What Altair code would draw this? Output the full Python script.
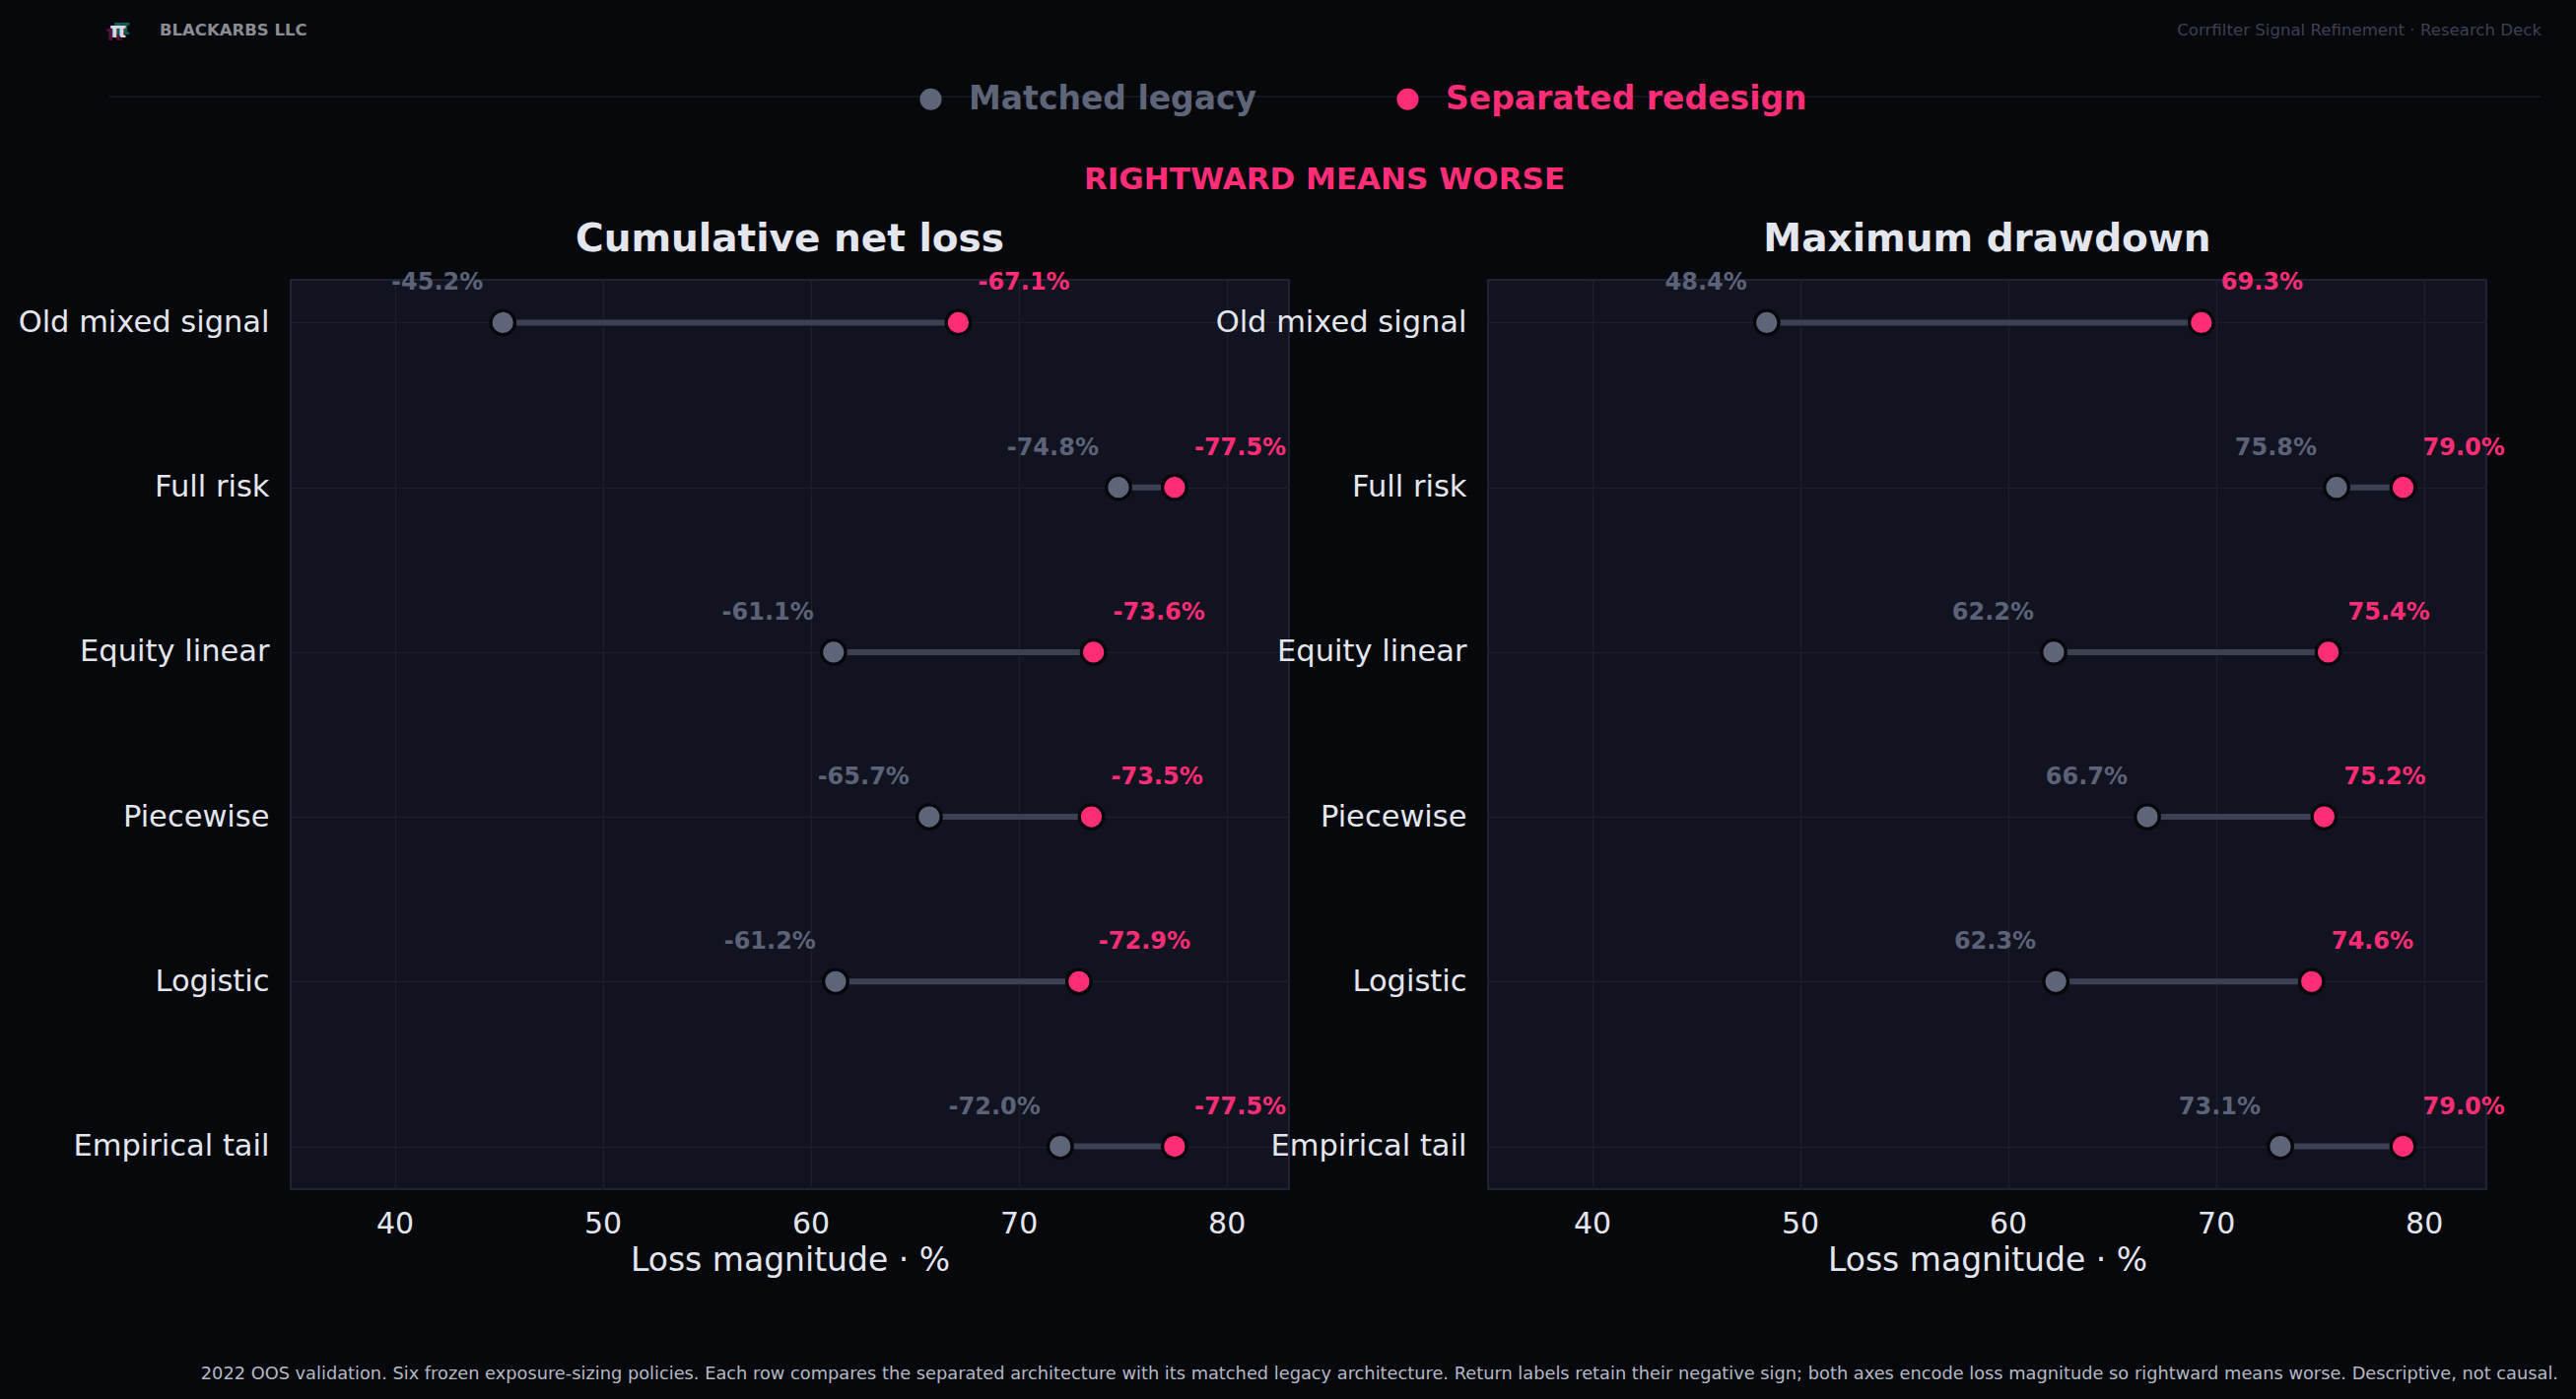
import altair as alt
import pandas as pd

# ---------------- data ----------------
policies = ["Old mixed signal", "Full risk", "Equity linear", "Piecewise", "Logistic", "Empirical tail"]
series_names = ["Matched legacy", "Separated redesign"]
loss_legacy = [45.2, 74.8, 61.1, 65.7, 61.2, 72.0]
loss_redesign = [67.1, 77.5, 73.6, 73.5, 72.9, 77.5]
dd_legacy = [48.4, 75.8, 62.2, 66.7, 62.3, 73.1]
dd_redesign = [69.3, 79.0, 75.4, 75.2, 74.6, 79.0]
x_ticks = [40, 50, 60, 70, 80]
x_domain = [35, 83]

panel_titles = ["Cumulative net loss", "Maximum drawdown"]
x_title = "Loss magnitude · %"
header_brand = "BLACKARBS LLC"
header_right = "Corrfilter Signal Refinement · Research Deck"
kicker = "RIGHTWARD MEANS WORSE"
footer = ("2022 OOS validation. Six frozen exposure-sizing policies. Each row compares the separated "
          "architecture with its matched legacy architecture. Return labels retain their negative sign; "
          "both axes encode loss magnitude so rightward means worse. Descriptive, not causal.")

# ---------------- style ----------------
FONT = "DejaVu Sans"
BG = "#07080c"
PANEL = "#121320"
GRID = "#1c1e2c"
BORDER = "#262a3c"
GRAY = "#5f6578"
GRAY_TXT = "#5c6277"
PINK = "#ff2d78"
LINK = "#3c4052"
TXT = "#e4e6ee"

W, H = 1013, 923


def text_layer(txt, x, y, size, color, weight="normal", align="left", dx=0, dy=0):
    return alt.Chart(pd.DataFrame({"t": [txt]})).mark_text(
        font=FONT, fontSize=size, fontWeight=weight, color=color, align=align,
        baseline="middle", dx=dx, dy=dy
    ).encode(text="t:N", x=alt.value(x), y=alt.value(y))


def panel(title, legacy, redesign, sign, show_legend, extras):
    wide = pd.DataFrame({"policy": policies, "legacy": legacy, "redesign": redesign})
    long = pd.DataFrame({
        "policy": policies * 2,
        "series": [series_names[0]] * len(policies) + [series_names[1]] * len(policies),
        "value": legacy + redesign,
    })
    long["label"] = [f"{sign}{v:.1f}%" for v in long["value"]]

    yenc = alt.Y(
        "policy:N", sort=policies, title=None,
        scale=alt.Scale(type="point", padding=0.26),
        axis=alt.Axis(labelFontSize=30.5, labelColor=TXT, labelPadding=22, labelFont=FONT,
                      domain=False, ticks=False, grid=True, gridColor=GRID, gridWidth=1.5,
                      labelLimit=400),
    )
    xscale = alt.Scale(domain=x_domain, nice=False, zero=False)
    xaxis = alt.Axis(values=x_ticks, labelFontSize=30, labelColor=TXT, labelPadding=20,
                     labelFont=FONT, domain=False, ticks=False, grid=True, gridColor=GRID,
                     gridWidth=1.5, titleFontSize=33, titleFontWeight="normal", titleColor=TXT,
                     titleFont=FONT, titlePadding=6)

    link = alt.Chart(wide).mark_rule(color=LINK, strokeWidth=6).encode(
        x=alt.X("legacy:Q", scale=xscale, axis=xaxis, title=x_title),
        x2="redesign:Q",
        y=yenc,
    )

    color_kwargs = dict(scale=alt.Scale(domain=series_names, range=[GRAY, PINK]), title=None)
    if show_legend:
        legend = alt.Legend(
            orient="none", legendX=633, legendY=-200, direction="horizontal", columns=2,
            title=None, symbolType="circle", symbolSize=490, symbolStrokeWidth=0,
            symbolOpacity=1, labelFontSize=33, labelFontWeight="bold", labelFont=FONT,
            labelOffset=22, columnPadding=136, padding=0, labelLimit=600,
            labelColor=alt.ExprRef(
                expr=f"datum.label === '{series_names[0]}' ? '{GRAY}' : '{PINK}'"),
        )
        color = alt.Color("series:N", legend=legend, **color_kwargs)
    else:
        color = alt.Color("series:N", legend=None, **color_kwargs)

    dots = alt.Chart(long).mark_circle(size=600, stroke="#06070a", strokeWidth=3.3, opacity=1).encode(
        x=alt.X("value:Q", scale=xscale, axis=xaxis, title=x_title),
        y=yenc,
        color=color,
    )

    lab_legacy = alt.Chart(long).transform_filter(
        alt.datum.series == series_names[0]
    ).mark_text(font=FONT, fontSize=24, fontWeight="bold", color=GRAY_TXT, align="right",
                baseline="middle", dx=-20, dy=-40).encode(
        x=alt.X("value:Q", scale=xscale, axis=xaxis, title=x_title), y=yenc, text="label:N")

    lab_red = alt.Chart(long).transform_filter(
        alt.datum.series == series_names[1]
    ).mark_text(font=FONT, fontSize=24, fontWeight="bold", color=PINK, align="left",
                baseline="middle", dx=20, dy=-40).encode(
        x=alt.X("value:Q", scale=xscale, axis=xaxis, title=x_title), y=yenc, text="label:N")

    title_layer = text_layer(title, W / 2, -41, 39, TXT, weight="bold", align="center")

    return alt.layer(link, dots, lab_legacy, lab_red, title_layer, *extras).properties(
        width=W, height=H,
    )


sep = alt.Chart(pd.DataFrame({"t": [0]})).mark_rule(color="#181a26", strokeWidth=1.5).encode(
    x=alt.value(-184), x2=alt.value(2283), y=alt.value(-186))

left_extras = [
    sep,
    text_layer("π", -175, -253, 22, "#5a1233", weight="bold", align="center", dx=-4, dy=3),
    text_layer("π", -175, -253, 22, "#0f5a5c", weight="bold", align="center", dx=4, dy=-3),
    text_layer("π", -175, -253, 22, "#d8d9e0", weight="bold", align="center"),
    text_layer(header_brand, -133, -253, 16.5, "#8a8b93", weight="bold"),
    text_layer(kicker, 1049, -101, 31, PINK, weight="bold", align="center"),
]
right_extras = [
    text_layer(header_right, 1069, -253, 16.6, "#3d4052", align="right"),
    text_layer(footer, 1086, 1111, 17.8, "#b4b8c4", align="right"),
]

left = panel(panel_titles[0], loss_legacy, loss_redesign, "-", True, left_extras)
right = panel(panel_titles[1], dd_legacy, dd_redesign, "", False, right_extras)

chart = alt.hconcat(left, right, spacing=202, bounds="flush").resolve_scale(color="independent").configure(
    background=BG, font=FONT,
    padding={"left": 17, "top": 16, "right": 17, "bottom": 19},
).configure_view(fill=PANEL, stroke=BORDER, strokeWidth=1.5)

chart.save("out.html", embed_options={"renderer": "svg", "actions": False})
